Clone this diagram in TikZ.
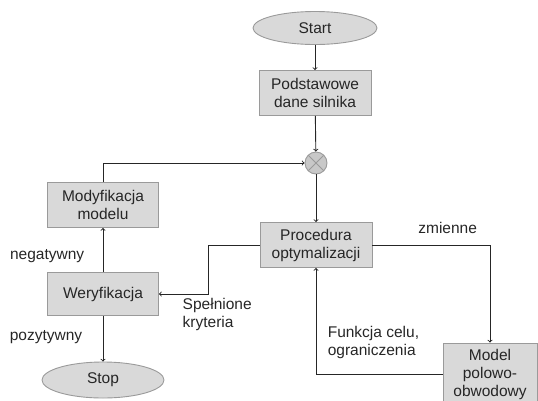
\documentclass[tikz,border=0pt]{standalone}
\usepackage{fontspec}
\setmainfont{Liberation Sans}
\usetikzlibrary{shapes.geometric}
\definecolor{boxfill}{HTML}{D9D9D9}
\definecolor{boxline}{HTML}{9A9A9A}
\definecolor{wire}{HTML}{262626}

\begin{document}
\begin{tikzpicture}[x=1pt, y=-1pt, line width=0.9pt, color=wire, font=\fontsize{15.5}{18}\selectfont,
    main/.style = {draw=boxline, fill=boxfill, minimum width=112pt, minimum height=45pt, align=center, inner sep=2pt},
    term/.style = {draw=boxline, fill=boxfill, ellipse, minimum width=124pt, minimum height=33pt},
    sum/.style = {draw=boxline, fill=boxfill!92!black, circle, minimum size=22pt, inner sep=0pt,
      path picture={\draw[boxline] (path picture bounding box.north west) -- (path picture bounding box.south east)
        (path picture bounding box.north east) -- (path picture bounding box.south west);}}]
      \useasboundingbox (0,0) rectangle (538,400);
      \clip (0,0) rectangle (538,400);
      \node[term] (1) at (315,28) {Start};
      \node[main] (2) [below of=1, node distance=65pt] {Podstawowe\\dane silnika};
      \node[sum] (3) at (316,163) {};
      \node[main] (4) at (316,245) {Procedura\\optymalizacji};
      \node[main, minimum width=94pt, minimum height=62pt] (5) at (490,374) {Model\\polowo-\\obwodowy};
      \node[main, minimum width=111pt] (6) at (103,205) {Modyfikacja\\modelu};
      \node[main, minimum width=111pt, minimum height=43pt] (7) [below of=6, node distance=89pt] {Weryfikacja};
      \node[term, minimum width=122pt, minimum height=36pt] (8) [below of=7, node distance=86pt] {Stop};
      \draw[->] (1) -- (2);
      \draw[->] (2) -- (3);
      \draw[->] (3) -- (4);
      \draw[->] (6) |- (3);
      \draw[->] (4) -| (5) node[pos=0.32, above=8pt] {zmienne};
      \draw[->] (5) -| (4) node[pos=0.5, anchor=south west, xshift=8pt, yshift=12pt, align=left] {Funkcja celu,\\ograniczenia};
      \draw[->] (4.west) -- ++(-51,0) |- (7.east) node[anchor=north west, xshift=20pt, align=left] {Spełnione\\kryteria};
      \draw[->] (7) -- (6) node[pos=0.36, left=15pt] {negatywny};
      \draw[->] (7) -- (8) node[pos=0.46, left=17pt] {pozytywny};
    \end{tikzpicture}
\end{document}
